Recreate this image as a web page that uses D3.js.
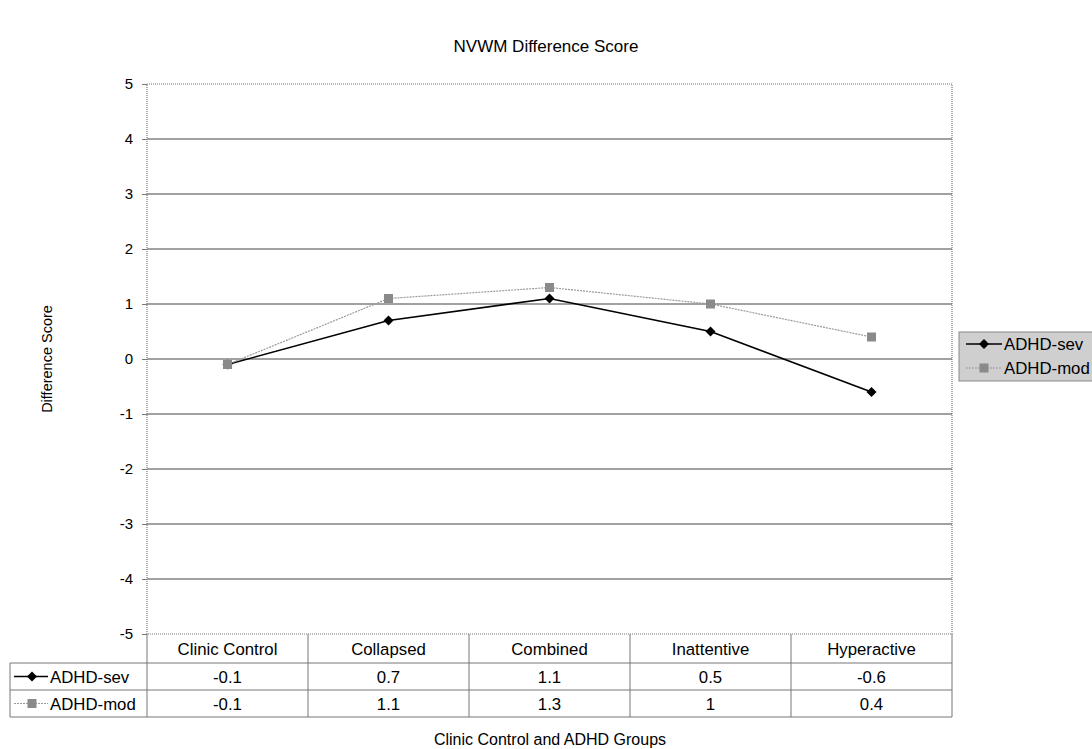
<!DOCTYPE html>
<html>
<head>
<meta charset="utf-8">
<script src="https://cdn.jsdelivr.net/npm/d3@7"></script>
<style>
  body { margin: 0; background: #fff; }
  svg { display: block; font-family: "Liberation Sans", Arial, sans-serif; }
</style>
</head>
<body>
<svg id="chart" width="1092" height="749"></svg>
<script>
// NVWM difference scores per group
const categories = ["Clinic Control", "Collapsed", "Combined", "Inattentive", "Hyperactive"];
const sevValues = [-0.1, 0.7, 1.1, 0.5, -0.6];
const modValues = [-0.1, 1.1, 1.3, 1, 0.4];
const seriesNames = ["ADHD-sev", "ADHD-mod"];
const yTicks = [-5, -4, -3, -2, -1, 0, 1, 2, 3, 4, 5];

const series = [
  { name: seriesNames[0], values: sevValues, color: "#000", marker: "diamond", dash: null, width: 1.6 },
  { name: seriesNames[1], values: modValues, color: "#9a9a9a", marker: "square", dash: "2,1", width: 1.2 }
];

const svg = d3.select("#chart");
const plot = { left: 147, right: 952, top: 84, bottom: 634 };
const tableFont = 16.8;

const x = d3.scaleBand().domain(categories).range([plot.left, plot.right]);
const y = d3.scaleLinear().domain([-5, 5]).range([plot.bottom, plot.top]);

// Title
svg.append("text").attr("x", 546).attr("y", 52).attr("text-anchor", "middle")
  .attr("font-size", 17).text("NVWM Difference Score");

// Gridlines
svg.append("g").selectAll("line").data(yTicks.filter(t => t !== -5 && t !== 5)).join("line")
  .attr("x1", plot.left).attr("x2", plot.right)
  .attr("y1", d => y(d)).attr("y2", d => y(d))
  .attr("stroke", "#444").attr("stroke-width", 1);

// Plot border
svg.append("rect").attr("x", plot.left).attr("y", plot.top)
  .attr("width", plot.right - plot.left).attr("height", plot.bottom - plot.top)
  .attr("fill", "none").attr("stroke", "#777").attr("stroke-width", 1.2).attr("stroke-dasharray", "1,1");

// Y axis
const yAxis = svg.append("g").attr("transform", `translate(${plot.left},0)`)
  .call(d3.axisLeft(y).tickValues(yTicks).tickSize(5).tickPadding(9).tickFormat(d => String(d)));
yAxis.select(".domain").remove();
yAxis.selectAll(".tick line").attr("stroke", "#777");
yAxis.selectAll("text").attr("font-size", 15).attr("fill", "#000")
  .attr("font-family", "Liberation Sans, Arial, sans-serif");

svg.append("text").attr("transform", "translate(52,359) rotate(-90)")
  .attr("text-anchor", "middle").attr("font-size", 14.5).text("Difference Score");

// Lines and markers
const line = d3.line().x((d, i) => x(categories[i]) + x.bandwidth() / 2).y(d => y(d));
series.forEach(s => {
  svg.append("path").datum(s.values).attr("d", line)
    .attr("fill", "none").attr("stroke", s.color).attr("stroke-width", s.width)
    .attr("stroke-dasharray", s.dash);
});
series.forEach(s => {
  const g = svg.append("g");
  s.values.forEach((v, i) => {
    const cx = x(categories[i]) + x.bandwidth() / 2, cy = y(v);
    drawMarker(g, s, cx, cy);
  });
});

function drawMarker(g, s, cx, cy) {
  if (s.marker === "diamond") {
    g.append("path").attr("d", `M${cx},${cy - 5}L${cx + 5},${cy}L${cx},${cy + 5}L${cx - 5},${cy}Z`)
      .attr("fill", "#000");
  } else {
    g.append("rect").attr("x", cx - 4.5).attr("y", cy - 4.5).attr("width", 9).attr("height", 9)
      .attr("fill", "#8a8a8a");
  }
}

// Data table under the plot
const rowTop = [634, 663, 690, 717];
const table = svg.append("g");
const tableLines = table.append("g").attr("stroke", "#777").attr("stroke-width", 1);
// horizontal rules
[1, 2, 3].forEach(r => {
  tableLines.append("line").attr("x1", 10).attr("x2", plot.right).attr("y1", rowTop[r]).attr("y2", rowTop[r]);
});
// vertical rules
tableLines.append("line").attr("x1", 10).attr("x2", 10).attr("y1", rowTop[1]).attr("y2", rowTop[3]);
categories.forEach(c => {
  tableLines.append("line").attr("x1", x(c)).attr("x2", x(c)).attr("y1", rowTop[0]).attr("y2", rowTop[3]);
});
tableLines.append("line").attr("x1", plot.right).attr("x2", plot.right).attr("y1", rowTop[0]).attr("y2", rowTop[3]);

table.selectAll("text.head").data(categories).join("text").attr("class", "head")
  .attr("x", d => x(d) + x.bandwidth() / 2).attr("y", rowTop[0] + 21)
  .attr("text-anchor", "middle").attr("font-size", tableFont).text(d => d);

series.forEach((s, r) => {
  const yMid = (rowTop[r + 1] + rowTop[r + 2]) / 2;
  table.append("g").selectAll("text").data(s.values).join("text")
    .attr("x", (d, i) => x(categories[i]) + x.bandwidth() / 2).attr("y", yMid + 6)
    .attr("text-anchor", "middle").attr("font-size", tableFont).text(d => d);
  // legend key in the row header
  table.append("line").attr("x1", 14).attr("x2", 48).attr("y1", yMid).attr("y2", yMid)
    .attr("stroke", s.color).attr("stroke-width", s.width).attr("stroke-dasharray", s.dash);
  drawMarker(table, s, 32, yMid);
  table.append("text").attr("x", 50).attr("y", yMid + 6).attr("font-size", tableFont).text(s.name);
});

// X axis title
svg.append("text").attr("x", 550).attr("y", 745).attr("text-anchor", "middle")
  .attr("font-size", 16).text("Clinic Control and ADHD Groups");

// Side legend
const lg = svg.append("g");
lg.append("rect").attr("x", 959).attr("y", 332).attr("width", 140).attr("height", 49)
  .attr("fill", "#cfcfcf").attr("stroke", "#888").attr("stroke-width", 1);
series.forEach((s, i) => {
  const ly = 344 + i * 24;
  lg.append("line").attr("x1", 966).attr("x2", 1002).attr("y1", ly).attr("y2", ly)
    .attr("stroke", s.color).attr("stroke-width", s.width).attr("stroke-dasharray", s.dash);
  drawMarker(lg, s, 984, ly);
  lg.append("text").attr("x", 1004).attr("y", ly + 6).attr("font-size", tableFont).text(s.name);
});
</script>
</body>
</html>
